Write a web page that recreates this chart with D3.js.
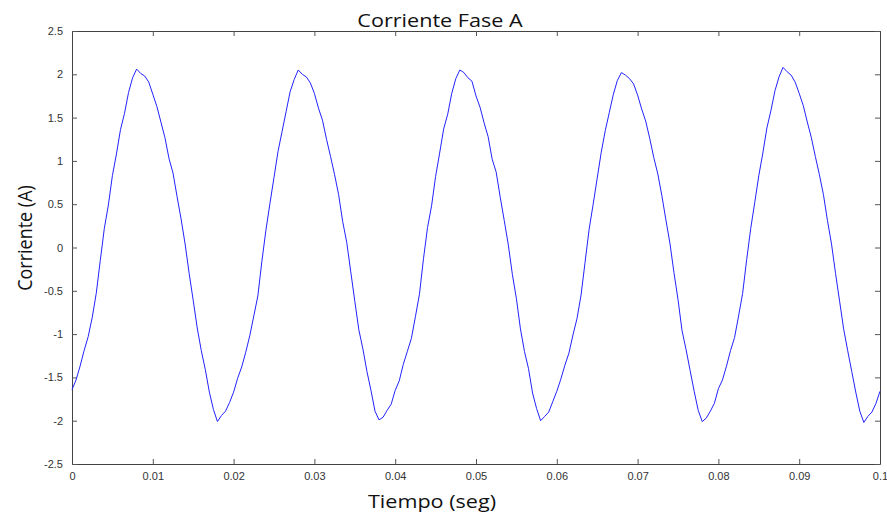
<!DOCTYPE html>
<html>
<head>
<meta charset="utf-8">
<script src="https://cdn.jsdelivr.net/npm/d3@7"></script>
<style>
  body { margin:0; background:#fff; }
  .tick text { font-family: "Liberation Sans", Arial, sans-serif; font-size:11px; fill:#333; }
  .lbl { font-family: "Open Sans", "Noto Sans", sans-serif; font-size:18px; fill:#111; }
</style>
</head>
<body>
<svg id="chart" width="887" height="514"></svg>
<script>
const PADDING = {
  LEFT:72,
  RIGHT:7,
  TOP:31,
  BOTTOM:50
};
const WIDTH = 887;
const HEIGHT = 514;

// tick values
const xTicks = [0,0.01,0.02,0.03,0.04,0.05,0.06,0.07,0.08,0.09,0.1];
const xTickLabels = ["0","0.01","0.02","0.03","0.04","0.05","0.06","0.07","0.08","0.09","0.1"];
const yTicks = [-2.5,-2,-1.5,-1,-0.5,0,0.5,1,1.5,2,2.5];
const yTickLabels = ["-2.5","-2","-1.5","-1","-0.5","0","0.5","1","1.5","2","2.5"];

// sample time step (s) and current samples (A)
const dt = 0.0005;
const current = [
  // 0 - 0.0195
  -1.64,-1.53,-1.37,-1.19,-1.03,-0.81,-0.53,-0.15,0.22,0.49,0.83,1.08,1.36,1.55,1.79,1.96,2.06,2.01,1.98,1.91,
  1.77,1.63,1.45,1.27,1.03,0.86,0.59,0.33,0.04,-0.30,-0.61,-0.93,-1.19,-1.41,-1.67,-1.87,-2.01,-1.94,-1.89,-1.79,
  // 0.02 - 0.0395
  -1.67,-1.51,-1.38,-1.21,-1.02,-0.79,-0.56,-0.16,0.20,0.51,0.81,1.11,1.34,1.57,1.80,1.94,2.05,2.00,1.97,1.90,
  1.78,1.61,1.47,1.25,1.05,0.84,0.61,0.30,0.06,-0.28,-0.62,-0.95,-1.17,-1.43,-1.65,-1.89,-1.99,-1.96,-1.88,-1.81,
  // 0.04 - 0.0595
  -1.65,-1.54,-1.35,-1.20,-1.05,-0.80,-0.54,-0.13,0.23,0.48,0.82,1.09,1.37,1.54,1.78,1.95,2.05,2.02,1.96,1.92,
  1.75,1.62,1.44,1.28,1.02,0.87,0.58,0.31,0.03,-0.31,-0.59,-0.94,-1.20,-1.40,-1.68,-1.86,-2.00,-1.95,-1.90,-1.78,
  // 0.06 - 0.0795
  -1.66,-1.52,-1.36,-1.22,-1.01,-0.82,-0.55,-0.17,0.21,0.50,0.80,1.10,1.35,1.56,1.77,1.93,2.02,1.99,1.95,1.89,
  1.76,1.60,1.46,1.26,1.04,0.85,0.60,0.32,0.05,-0.29,-0.60,-0.96,-1.18,-1.42,-1.66,-1.88,-2.01,-1.97,-1.89,-1.80,
  // 0.08 - 0.1
  -1.63,-1.53,-1.37,-1.19,-1.04,-0.79,-0.53,-0.14,0.22,0.52,0.83,1.09,1.38,1.58,1.81,1.97,2.08,2.03,1.99,1.91,
  1.78,1.64,1.45,1.27,1.05,0.84,0.61,0.31,0.04,-0.30,-0.62,-0.94,-1.19,-1.43,-1.67,-1.89,-2.02,-1.95,-1.90,-1.80,
  -1.66
];

let svg = d3.select("#chart");

let xScale = d3.scaleLinear()
               .domain([0,0.1])
               .range([PADDING.LEFT, WIDTH - PADDING.RIGHT]);
let yScale = d3.scaleLinear()
               .domain([-2.5,2.5])
               .range([HEIGHT - PADDING.BOTTOM, PADDING.TOP]);

// bottom axis, ticks pointing in
let xaxis = d3.axisBottom(xScale)
              .tickValues(xTicks)
              .tickSizeInner(-5)
              .tickSizeOuter(0)
              .tickPadding(8)
              .tickFormat((d,i)=>xTickLabels[i]);
svg.append("g")
   .attr("transform","translate(0,"+(HEIGHT-PADDING.BOTTOM)+")")
   .call(xaxis);

// top axis, no labels
svg.append("g")
   .attr("transform","translate(0,"+PADDING.TOP+")")
   .call(d3.axisTop(xScale).tickValues(xTicks).tickSizeInner(-5).tickSizeOuter(0).tickFormat(""));

// left axis
let yaxis = d3.axisLeft(yScale)
              .tickValues(yTicks)
              .tickSizeInner(-5)
              .tickSizeOuter(0)
              .tickPadding(9)
              .tickFormat((d,i)=>yTickLabels[i]);
svg.append("g")
   .attr("transform","translate("+PADDING.LEFT+",0)")
   .call(yaxis);

// right axis, no labels
svg.append("g")
   .attr("transform","translate("+(WIDTH-PADDING.RIGHT)+",0)")
   .call(d3.axisRight(yScale).tickValues(yTicks).tickSizeInner(-5).tickSizeOuter(0).tickFormat(""));

svg.selectAll(".domain").attr("stroke","#444");
svg.selectAll(".tick line").attr("stroke","#555");

// the signal
let line = d3.line()
             .x((d,i)=>xScale(i*dt))
             .y((d)=>yScale(d));
svg.append("path")
   .datum(current)
   .attr("fill","none")
   .attr("stroke","#2222ff")
   .attr("stroke-width",1)
   .attr("stroke-linejoin","round")
   .attr("d",line);

// labels (the reference image is stretched sideways a bit)
svg.append("text")
   .attr("class","lbl")
   .attr("text-anchor","middle")
   .attr("transform","translate(440,27) scale(1.2,1)")
   .text("Corriente Fase A");

svg.append("text")
   .attr("class","lbl")
   .attr("text-anchor","middle")
   .attr("transform","translate(432,508) scale(1.2,1)")
   .text("Tiempo (seg)");

svg.append("text")
   .attr("class","lbl")
   .attr("text-anchor","middle")
   .attr("transform","translate(32,238) scale(1.15,1) rotate(-90)")
   .text("Corriente (A)");
</script>
</body>
</html>
